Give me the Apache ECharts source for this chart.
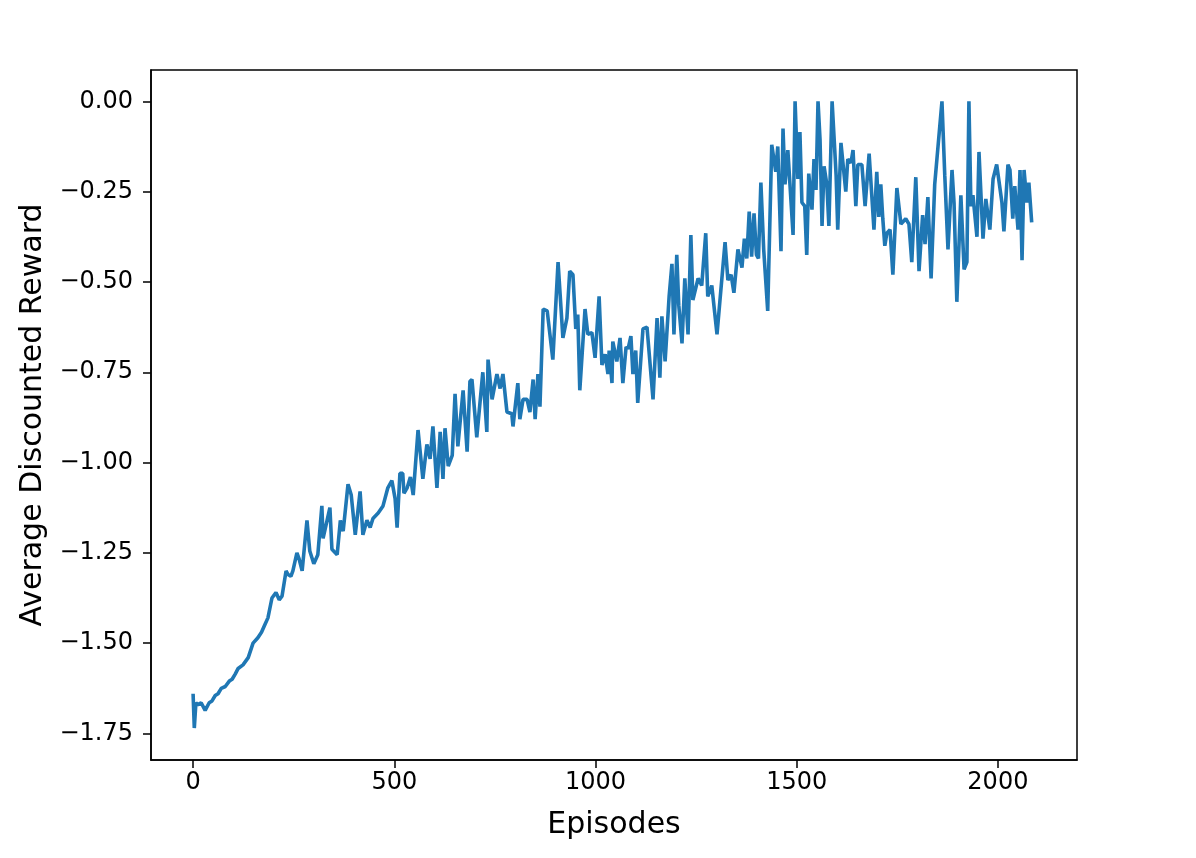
<!DOCTYPE html>
<html>
<head>
<meta charset="utf-8">
<script src="https://cdn.jsdelivr.net/npm/echarts@6/dist/echarts.min.js"></script>
<style>
html,body{margin:0;padding:0;background:#fff;}
#chart{width:1196px;height:858px;}
</style>
</head>
<body>
<div id="chart"></div>
<script>
const episodes = [0,3,7,12,20,30,40,47,55,62,70,80,90,97,105,112,124,137,149,161,170,178,186,196,206,214,221,231,236,243,248,258,263,271,283,290,300,310,320,323,333,340,345,358,366,373,385,393,403,415,422,432,440,447,460,472,484,494,502,507,514,521,524,532,540,547,559,571,581,589,596,606,614,621,626,634,644,651,658,663,671,681,688,693,705,720,730,733,743,755,763,770,780,792,795,807,812,820,830,837,845,850,857,862,870,880,894,907,919,929,936,944,951,956,961,974,981,991,999,1009,1016,1024,1031,1034,1041,1043,1053,1061,1068,1076,1081,1088,1093,1100,1105,1118,1128,1143,1153,1160,1165,1173,1183,1190,1195,1202,1207,1215,1222,1230,1237,1242,1255,1264,1274,1279,1289,1302,1309,1322,1329,1337,1344,1354,1364,1370,1376,1382,1388,1394,1400,1405,1411,1418,1428,1438,1448,1453,1461,1466,1471,1478,1483,1491,1496,1503,1508,1513,1520,1525,1530,1538,1543,1548,1553,1558,1563,1568,1575,1580,1588,1598,1602,1610,1622,1627,1635,1640,1647,1652,1662,1670,1680,1692,1699,1704,1709,1714,1719,1724,1732,1739,1749,1759,1771,1779,1786,1796,1804,1813,1819,1826,1834,1843,1861,1868,1876,1886,1891,1898,1908,1916,1923,1928,1933,1938,1948,1953,1963,1970,1980,1988,1997,2010,2015,2025,2030,2037,2042,2050,2055,2060,2065,2072,2077,2084,2092];
const rewards = [-1.64,-1.735,-1.665,-1.67,-1.665,-1.686,-1.665,-1.66,-1.645,-1.64,-1.625,-1.62,-1.605,-1.60,-1.585,-1.57,-1.56,-1.54,-1.50,-1.485,-1.47,-1.45,-1.43,-1.375,-1.36,-1.38,-1.37,-1.30,-1.31,-1.315,-1.30,-1.25,-1.265,-1.30,-1.16,-1.245,-1.28,-1.255,-1.12,-1.21,-1.16,-1.125,-1.24,-1.255,-1.16,-1.19,-1.06,-1.09,-1.20,-1.08,-1.20,-1.16,-1.18,-1.155,-1.14,-1.12,-1.07,-1.05,-1.10,-1.18,-1.03,-1.03,-1.085,-1.07,-1.04,-1.09,-0.91,-1.045,-0.95,-0.99,-0.90,-1.07,-0.915,-1.045,-0.905,-1.01,-0.98,-0.81,-0.955,-0.895,-0.80,-0.97,-0.775,-0.77,-0.93,-0.75,-0.915,-0.715,-0.825,-0.755,-0.795,-0.755,-0.86,-0.865,-0.90,-0.78,-0.88,-0.825,-0.825,-0.86,-0.77,-0.88,-0.755,-0.845,-0.575,-0.58,-0.715,-0.445,-0.655,-0.60,-0.47,-0.48,-0.63,-0.59,-0.80,-0.575,-0.645,-0.64,-0.71,-0.54,-0.73,-0.70,-0.755,-0.69,-0.78,-0.665,-0.72,-0.655,-0.78,-0.68,-0.685,-0.65,-0.755,-0.69,-0.835,-0.63,-0.625,-0.825,-0.60,-0.765,-0.595,-0.72,-0.54,-0.45,-0.645,-0.425,-0.565,-0.67,-0.49,-0.645,-0.37,-0.55,-0.49,-0.51,-0.365,-0.54,-0.51,-0.645,-0.555,-0.39,-0.495,-0.48,-0.53,-0.41,-0.46,-0.38,-0.435,-0.305,-0.43,-0.31,-0.425,-0.435,-0.225,-0.41,-0.58,-0.12,-0.195,-0.125,-0.415,-0.075,-0.23,-0.135,-0.225,-0.37,0.0,-0.215,-0.085,-0.28,-0.29,-0.425,-0.20,-0.30,-0.16,-0.245,0.0,-0.105,-0.345,-0.18,-0.23,-0.345,0.0,-0.205,-0.355,-0.115,-0.25,-0.16,-0.17,-0.135,-0.29,-0.175,-0.175,-0.29,-0.145,-0.355,-0.195,-0.32,-0.23,-0.325,-0.40,-0.365,-0.355,-0.48,-0.24,-0.34,-0.325,-0.34,-0.445,-0.21,-0.47,-0.315,-0.395,-0.265,-0.49,-0.23,0.0,-0.205,-0.41,-0.19,-0.28,-0.555,-0.26,-0.465,-0.445,0.0,-0.29,-0.26,-0.375,-0.14,-0.38,-0.27,-0.355,-0.215,-0.175,-0.28,-0.36,-0.175,-0.19,-0.325,-0.235,-0.355,-0.19,-0.44,-0.19,-0.28,-0.225,-0.335];
const xTicks = [0,500,1000,1500,2000];
const yTicks = [-1.75,-1.5,-1.25,-1.0,-0.75,-0.5,-0.25,0.0];

const chart = echarts.init(document.getElementById('chart'), null, {renderer:'canvas'});
const font = 'DejaVu Sans';
chart.setOption({
  animation:false,
  backgroundColor:'#ffffff',
  grid:{left:151,top:70,right:119,bottom:98,show:true,borderColor:'#000',borderWidth:1.5,backgroundColor:'transparent'},
  xAxis:{
    type:'value',min:-104.6,max:2196.6,
    name:'Episodes',nameLocation:'middle',nameGap:50,
    nameTextStyle:{fontFamily:font,fontSize:30,color:'#000'},
    axisLine:{show:true,onZero:false,lineStyle:{color:'#000',width:1.5}},
    axisTick:{show:true,customValues:xTicks,length:8,lineStyle:{color:'#000',width:1.5}},
    axisLabel:{customValues:xTicks,fontFamily:font,fontSize:24,color:'#000',margin:11,formatter:v=>String(Math.round(v))},
    splitLine:{show:false}
  },
  yAxis:{
    type:'value',min:-1.8235,max:0.0868,
    name:'Average Discounted Reward',nameLocation:'middle',nameGap:100,
    nameTextStyle:{fontFamily:font,fontSize:30,color:'#000'},
    axisLine:{show:true,onZero:false,lineStyle:{color:'#000',width:1.5}},
    axisTick:{show:true,customValues:yTicks,length:8,lineStyle:{color:'#000',width:1.5}},
    axisLabel:{customValues:yTicks,fontFamily:font,fontSize:24,color:'#000',margin:18,formatter:v=>v.toFixed(2).replace('-','\u2212')},
    splitLine:{show:false}
  },
  series:[{
    type:'line',
    data:episodes.map((e,i)=>[e,rewards[i]]),
    showSymbol:false,symbol:'none',
    lineStyle:{color:'#1f77b4',width:3.6},
    itemStyle:{color:'#1f77b4'}
  }]
});
</script>
</body>
</html>
